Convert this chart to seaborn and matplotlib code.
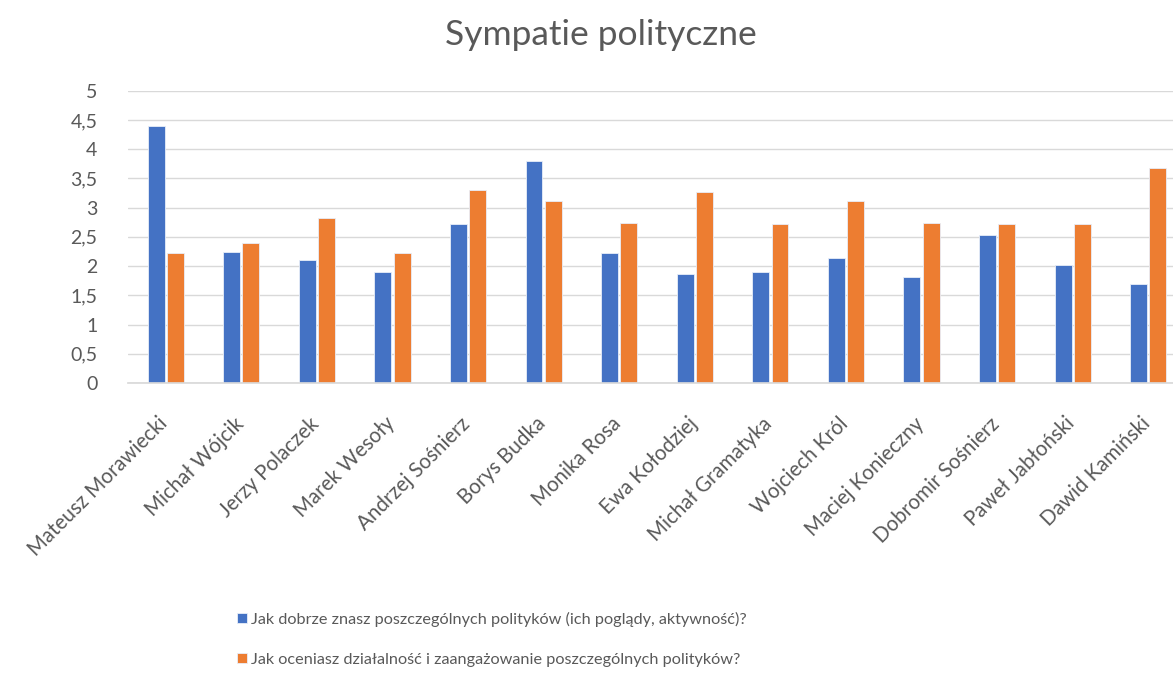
import pandas as pd
import matplotlib
matplotlib.use("Agg")
import matplotlib.pyplot as plt
import matplotlib.transforms as mtransforms
import seaborn as sns

politycy = ["Mateusz Morawiecki", "Michał Wójcik", "Jerzy Polaczek", "Marek Wesoły",
            "Andrzej Sośnierz", "Borys Budka", "Monika Rosa", "Ewa Kołodziej",
            "Michał Gramatyka", "Wojciech Król", "Maciej Konieczny", "Dobromir Sośnierz",
            "Paweł Jabłoński", "Dawid Kamiński"]
znajomosc = [4.40, 2.24, 2.10, 1.90, 2.72, 3.79, 2.22, 1.87, 1.90, 2.13, 1.81, 2.53, 2.02, 1.69]
ocena = [2.22, 2.39, 2.83, 2.22, 3.30, 3.12, 2.74, 3.26, 2.72, 3.12, 2.74, 2.72, 2.72, 3.67]
pytania = ["Jak dobrze znasz poszczególnych polityków (ich poglądy, aktywność)?",
           "Jak oceniasz działalność i zaangażowanie poszczególnych polityków?"]
y_ticks = [0, 0.5, 1, 1.5, 2, 2.5, 3, 3.5, 4, 4.5, 5]
y_labels = ["0", "0,5", "1", "1,5", "2", "2,5", "3", "3,5", "4", "4,5", "5"]

df = pd.DataFrame({
    "polityk": politycy * 2,
    "wartosc": znajomosc + ocena,
    "pytanie": [pytania[0]] * len(politycy) + [pytania[1]] * len(politycy),
})

sns.set_theme(style="white")
plt.rcParams["font.family"] = ["Lato", "DejaVu Sans"]
grey = "#595959"

fig = plt.figure(figsize=(11.73, 6.75), dpi=100)
# chart area runs past the right edge, like the cropped original
ax = fig.add_axes([0.1091, 0.4326, 0.902, 0.433])

sns.barplot(data=df, x="polityk", y="wartosc", hue="pytanie",
            palette=["#4472C4", "#ED7D31"], saturation=1, width=0.51, gap=0.12,
            edgecolor="#E8EEF8", linewidth=0.6, ax=ax)

ax.set_ylim(0, 5)
ax.set_yticks(y_ticks)
ax.set_yticklabels(y_labels, fontsize=14, color=grey)
ax.yaxis.grid(True, color="#D9D9D9", linewidth=1)
ax.set_axisbelow(True)
ax.set_xlabel("")
ax.set_ylabel("")
ax.tick_params(axis="y", length=0, pad=22)
ax.tick_params(axis="x", length=0, pad=22)
shift = mtransforms.ScaledTranslation(-0.08, 0, fig.dpi_scale_trans)
for lab in ax.get_xticklabels():
    lab.set_rotation(45)
    lab.set_ha("right")
    lab.set_rotation_mode("anchor")
    lab.set_fontsize(14.8)
    lab.set_color(grey)
    lab.set_transform(lab.get_transform() + shift)
for s in ["top", "right", "left"]:
    ax.spines[s].set_visible(False)
ax.spines["bottom"].set_color("#D9D9D9")

fig.text(0.512, 0.948, "Sympatie polityczne", fontsize=25.5, color=grey,
         ha="center", va="center")

handles, labels = ax.get_legend_handles_labels()
ax.legend_.remove()
fig.legend(handles, labels, loc="upper left", bbox_to_anchor=(0.19, 0.115),
           frameon=False, fontsize=11.7, labelcolor=grey, handlelength=0.6,
           handleheight=0.6, handletextpad=0.25, labelspacing=1.6)

fig.savefig("out.png", dpi=100)
